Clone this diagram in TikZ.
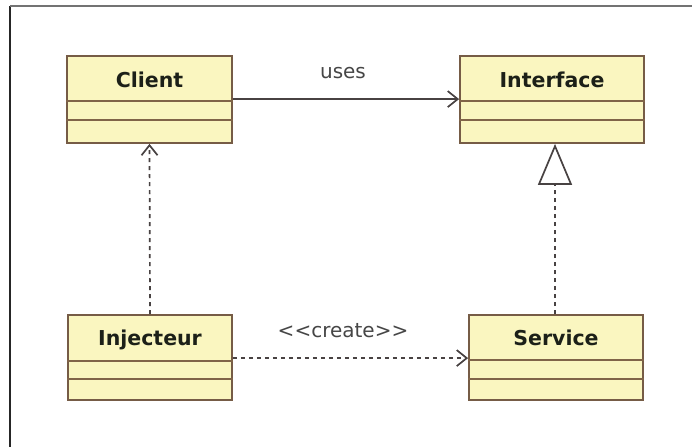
\documentclass[tikz,border=0pt]{standalone}
\usepackage{fontspec}
\setmainfont{DejaVu Sans}
\usetikzlibrary{arrows.meta,calc}
\definecolor{boxfill}{RGB}{250,246,192}
\definecolor{boxline}{RGB}{118,92,70}
\definecolor{divline}{RGB}{128,100,72}
\definecolor{txt}{RGB}{28,32,24}
\definecolor{conn}{RGB}{72,66,66}
\definecolor{lbl}{RGB}{70,70,70}
\tikzset{
  classbox/.style={draw=boxline, fill=boxfill, line width=1.8pt, inner sep=0pt},
  classname/.style={font=\bfseries\fontsize{20.5}{24}\selectfont, text=txt, anchor=base, inner sep=0pt},
  divider/.style={draw=divline, line width=1.8pt},
  conline/.style={draw=conn, line width=1.7pt},
  dashedline/.style={conline, dash pattern=on 4pt off 4pt},
  barb/.style={-{Straight Barb[length=10pt,width=16pt,line width=1.7pt]}},
  realize/.style={-{Triangle[open,length=41pt,width=34pt,line width=1.7pt,fill=white]}},
  edgelabel/.style={font=\fontsize{20}{23}\selectfont, text=lbl, inner sep=0pt, anchor=base}
}
\begin{document}
\begin{tikzpicture}[x=1pt,y=-1pt]
\useasboundingbox (0,0) rectangle (692,447);
\fill[white] (0,0) rectangle (692,447);
% outer frame
\coordinate (frameTL) at (10,6);
\coordinate (frameBL) at (10,447);
\coordinate (frameTR) at (692,6);
\draw[black!85, line width=1.6pt] (frameTL) -- (frameBL);
\draw[black!55, line width=1.6pt] (frameTL) -- (frameTR);

% class boxes
\node[classbox, minimum width=165pt, minimum height=87pt] (client) at (149.5,99.5) {};
\node[classbox, minimum width=184pt, minimum height=87pt] (interface) at (552,99.5) {};
\node[classbox, minimum width=164pt, minimum height=85pt] (injecteur) at (150,357.5) {};
\node[classbox, minimum width=174pt, minimum height=85pt] (service) at (556,357.5) {};

% names
\node[classname] (clientname) at (149.5,87) {Client};
\node[classname] (interfacename) at (552,87) {Interface};
\node[classname] (injecteurname) at (150,345) {Injecteur};
\node[classname] (servicename) at (556,345) {Service};

% dividers
\draw[divider] ($(client.north west)+(0,46)$) -- ($(client.north east)+(0,46)$);
\draw[divider] ($(client.north west)+(0,65)$) -- ($(client.north east)+(0,65)$);
\draw[divider] ($(interface.north west)+(0,46)$) -- ($(interface.north east)+(0,46)$);
\draw[divider] ($(interface.north west)+(0,65)$) -- ($(interface.north east)+(0,65)$);
\draw[divider] ($(injecteur.north west)+(0,47)$) -- ($(injecteur.north east)+(0,47)$);
\draw[divider] ($(injecteur.north west)+(0,65)$) -- ($(injecteur.north east)+(0,65)$);
\draw[divider] ($(service.north west)+(0,46)$) -- ($(service.north east)+(0,46)$);
\draw[divider] ($(service.north west)+(0,65)$) -- ($(service.north east)+(0,65)$);

% connectors
\draw[conline, barb] ($(client.north east)+(0,44)$) -- ($(interface.north west)+(0,44)$);
\node[edgelabel] (useslabel) at (343,78) {uses};

\draw[dashedline, barb] (injecteur.north) -- (client.south);

\draw[dashedline, barb] ($(injecteur.north east)+(0,44)$) -- ($(service.north west)+(0,44)$);
\node[edgelabel] (createlabel) at (343,337) {{<}{<}create{>}{>}};

\draw[dashedline, realize] ($(service.north)+(-1,0)$) -- ($(interface.south)+(3,0)$);
\end{tikzpicture}
\end{document}
